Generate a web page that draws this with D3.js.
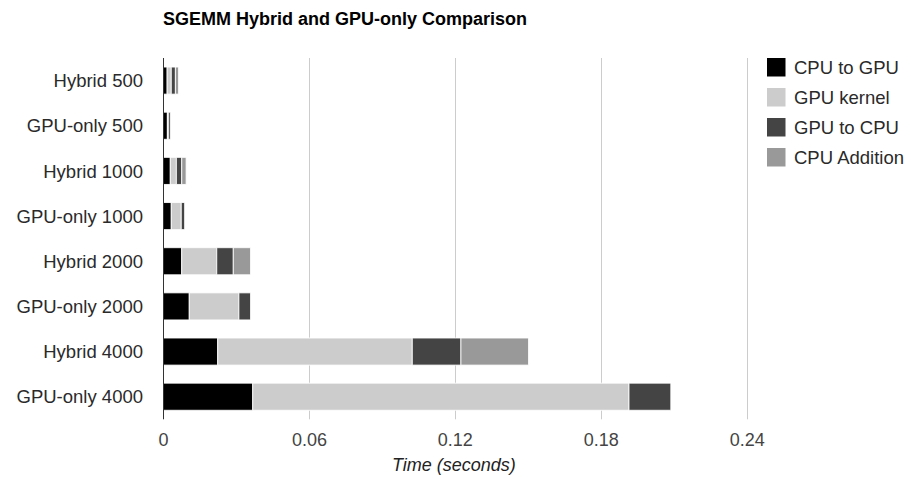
<!DOCTYPE html>
<html>
<head>
<meta charset="utf-8">
<script src="https://cdn.jsdelivr.net/npm/d3@7"></script>
<style>
  html, body { margin: 0; padding: 0; background: #fff; }
  svg { display: block; font-family: Arial, "Liberation Sans", sans-serif; }
</style>
</head>
<body>
<svg id="chart" width="911" height="502"></svg>
<script>
// Benchmark rows (top to bottom) and per-phase timings in seconds
const categories = ["Hybrid 500", "GPU-only 500", "Hybrid 1000", "GPU-only 1000",
                    "Hybrid 2000", "GPU-only 2000", "Hybrid 4000", "GPU-only 4000"];
const seriesNames = ["CPU to GPU", "GPU kernel", "GPU to CPU", "CPU Addition"];
const cpuToGpu    = [0.0017, 0.0018, 0.0030, 0.0034, 0.0077, 0.0108, 0.0225, 0.0369];
const gpuKernel   = [0.0017, 0.0004, 0.0025, 0.0041, 0.0144, 0.0204, 0.0800, 0.1547];
const gpuToCpu    = [0.0017, 0.0008, 0.0022, 0.0014, 0.0068, 0.0048, 0.0200, 0.0172];
const cpuAddition = [0.0013, 0,      0.0018, 0,      0.0071, 0,      0.0278, 0];
const xTicks = [0, 0.06, 0.12, 0.18, 0.24];
const seriesColors = ["#000000", "#cccccc", "#444444", "#999999"];

const seriesValues = [cpuToGpu, gpuKernel, gpuToCpu, cpuAddition];
const rows = categories.map((c, i) => {
  const r = { category: c };
  seriesNames.forEach((s, k) => { r[s] = seriesValues[k][i]; });
  return r;
});

const svg = d3.select("#chart");
const plot = { left: 163, right: 746.7, top: 58, bottom: 419.3 };

const x = d3.scaleLinear().domain([0, 0.24]).range([plot.left, plot.right]);
const y = d3.scaleBand().domain(categories).range([plot.top, plot.bottom])
  .paddingInner(0.4).paddingOuter(0.2);
const color = d3.scaleOrdinal().domain(seriesNames).range(seriesColors);

// Title
svg.append("text")
  .attr("x", plot.left).attr("y", 24.5)
  .attr("font-size", 18).attr("font-weight", "bold").attr("fill", "#000")
  .attr("textLength", 364).attr("lengthAdjust", "spacingAndGlyphs")
  .text("SGEMM Hybrid and GPU-only Comparison");

// Vertical gridlines
svg.append("g").selectAll("line")
  .data(xTicks.filter(d => d > 0))
  .join("line")
  .attr("x1", d => Math.round(x(d)) + 0.5).attr("x2", d => Math.round(x(d)) + 0.5)
  .attr("y1", plot.top).attr("y2", plot.bottom)
  .attr("stroke", "#cccccc").attr("stroke-width", 1);

// Stacked bars
const stack = d3.stack().keys(seriesNames)(rows);
svg.append("g").selectAll("g")
  .data(stack)
  .join("g")
  .attr("fill", d => color(d.key))
  .selectAll("rect")
  .data(d => d.filter(p => p[1] - p[0] > 0))
  .join("rect")
  .attr("x", p => x(p[0]))
  .attr("y", p => y(p.data.category))
  .attr("width", p => x(p[1]) - x(p[0]))
  .attr("height", y.bandwidth())
  .attr("stroke", "#ffffff").attr("stroke-width", 1).attr("stroke-opacity", 0.85);

// Baseline axis line
svg.append("line")
  .attr("x1", plot.left + 0.5).attr("x2", plot.left + 0.5)
  .attr("y1", plot.top).attr("y2", plot.bottom)
  .attr("stroke", "#333333").attr("stroke-width", 1);

// X axis tick labels
const xAxis = d3.axisBottom(x).tickValues(xTicks).tickFormat(d => String(d)).tickSize(0).tickPadding(0);
const gx = svg.append("g").attr("transform", `translate(0,${plot.bottom + 14})`).call(xAxis);
gx.select(".domain").remove();
gx.selectAll("text")
  .attr("font-family", "Arial, 'Liberation Sans', sans-serif")
  .attr("font-size", 18).attr("fill", "#444444").attr("dy", "0.71em");

// Y axis category labels
const yAxis = d3.axisLeft(y).tickSize(0).tickPadding(0);
const gy = svg.append("g").attr("transform", `translate(${plot.left - 20},0)`).call(yAxis);
gy.select(".domain").remove();
gy.selectAll("text")
  .attr("font-family", "Arial, 'Liberation Sans', sans-serif")
  .attr("font-size", 18.5).attr("fill", "#2a2a2a").attr("dy", "0.36em");

// X axis title
svg.append("text")
  .attr("x", (plot.left + plot.right) / 2 - 1).attr("y", 471)
  .attr("text-anchor", "middle")
  .attr("font-size", 18).attr("font-style", "italic").attr("fill", "#222222")
  .text("Time (seconds)");

// Legend
const legend = svg.append("g").attr("transform", "translate(767,58)");
const item = legend.selectAll("g").data(seriesNames).join("g")
  .attr("transform", (d, i) => `translate(0,${i * 30})`);
item.append("rect")
  .attr("width", 18.5).attr("height", 18.5)
  .attr("fill", d => color(d));
item.append("text")
  .attr("x", 27).attr("y", 9.5).attr("dy", "0.36em")
  .attr("font-size", 18.5).attr("fill", "#2a2a2a")
  .text(d => d);
</script>
</body>
</html>
